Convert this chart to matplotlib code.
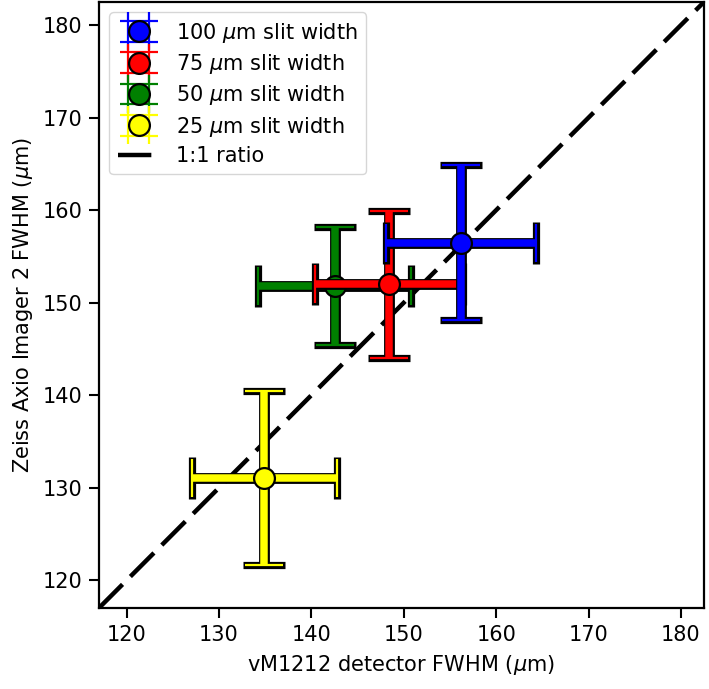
import matplotlib
matplotlib.use("Agg")
import matplotlib.pyplot as plt

# FWHM measurements (um): detector vs microscope
labels = ["25 $\\mu$m slit width", "50 $\\mu$m slit width",
          "75 $\\mu$m slit width", "100 $\\mu$m slit width"]
colors = ["yellow", "green", "red", "blue"]
det_fwhm = [134.9, 142.5, 148.4, 156.2]
det_err = [7.85, 8.3, 8.0, 8.1]
zeiss_fwhm = [131.0, 151.8, 152.0, 156.5]
zeiss_err = [9.4, 6.4, 7.95, 8.4]

plt.rcParams['font.size'] = 15

fig = plt.figure(figsize=(7.09, 6.89), dpi=100)
ax = fig.add_axes([0.1396, 0.1176, 0.8533, 0.8795])

ratio = ax.axline((120, 120), slope=1, color='black', lw=3.2,
                  ls=(0, (7.5, 2.5)), label='1:1 ratio', zorder=1)

handles = []
for i, (x, xe, y, ye, c, l) in enumerate(zip(det_fwhm, det_err, zeiss_fwhm,
                                              zeiss_err, colors, labels)):
    # black underlay gives the outlined look
    ax.errorbar(x, y, xerr=xe, yerr=ye, fmt='none', ecolor='black',
                elinewidth=7.8, capsize=14.8, capthick=5.2, zorder=3 + 2 * i)
    h = ax.errorbar(x, y, xerr=xe, yerr=ye, fmt='o', color=c, ecolor=c,
                    ms=15, mec='black', mew=1.6, elinewidth=5.4,
                    capsize=13.8, capthick=2.9, label=l, zorder=4 + 2 * i)
    handles.append(h)

ax.set_xlim(117, 182.5)
ax.set_ylim(117, 182.5)
ax.set_xticks(range(120, 190, 10))
ax.set_yticks(range(120, 190, 10))
ax.tick_params(length=7, width=1.5, pad=5)
for s in ax.spines.values():
    s.set_linewidth(1.6)

ax.set_xlabel("vM1212 detector FWHM ($\\mu$m)", labelpad=6)
ax.set_ylabel("Zeiss Axio Imager 2 FWHM ($\\mu$m)", labelpad=5)

ax.legend(handles=handles[::-1] + [ratio], loc='upper left',
          labelspacing=0.35)

fig.savefig("out.png", dpi=100)
